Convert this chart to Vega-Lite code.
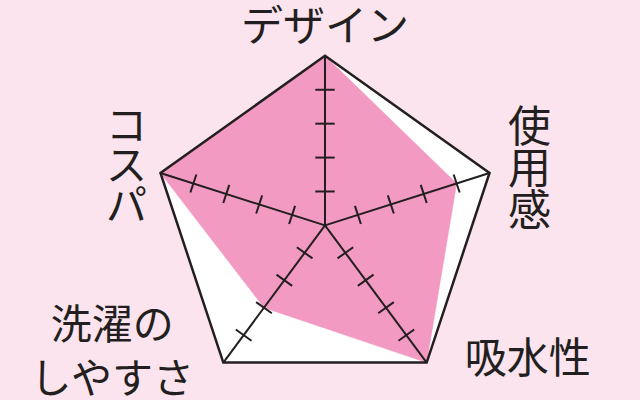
{
  "$schema": "https://vega.github.io/schema/vega-lite/v6.json",
  "width": 640,
  "height": 400,
  "autosize": {"type": "fit", "contains": "padding"},
  "padding": 0,
  "background": "#fce4ee",
  "data": {
    "values": [
      {"axis": "デザイン", "label": "デザイン", "idx": 0, "score": 5, "ticks": [1, 2, 3, 4]},
      {"axis": "使用感", "label": "使\n用\n感", "idx": 1, "score": 4, "ticks": [1, 2, 3, 4]},
      {"axis": "吸水性", "label": "吸水性", "idx": 2, "score": 5, "ticks": [1, 2, 3, 4]},
      {"axis": "洗濯のしやすさ", "label": "洗濯の\nしやすさ", "idx": 3, "score": 3, "ticks": [1, 2, 3, 4]},
      {"axis": "コスパ", "label": "コ\nス\nパ", "idx": 4, "score": 5, "ticks": [1, 2, 3, 4]}
    ]
  },
  "transform": [
    {"calculate": "PI / 2 - datum.idx * 2 * PI / 5", "as": "t"},
    {"calculate": "cos(datum.t)", "as": "c"},
    {"calculate": "sin(datum.t)", "as": "s"},
    {"calculate": "5 * datum.c", "as": "fx"},
    {"calculate": "5 * datum.s", "as": "fy"},
    {"calculate": "datum.score * datum.c", "as": "px"},
    {"calculate": "datum.score * datum.s", "as": "py"}
  ],
  "layer": [
    {
      "mark": {"type": "line", "interpolate": "linear-closed", "fill": "white", "strokeWidth": 0},
      "encoding": {
        "x": {"field": "fx", "type": "quantitative", "scale": {"domain": [-9.393, 9.104], "nice": false, "zero": false}},
        "y": {"field": "fy", "type": "quantitative", "scale": {"domain": [-4.913, 6.647], "nice": false, "zero": false}},
        "order": {"field": "idx", "type": "quantitative"}
      }
    },
    {
      "mark": {"type": "line", "interpolate": "linear-closed", "fill": "#f39ac2", "stroke": "#f39ac2", "strokeWidth": 0.5},
      "encoding": {
        "x": {"field": "px", "type": "quantitative", "scale": {"domain": [-9.393, 9.104], "nice": false, "zero": false}},
        "y": {"field": "py", "type": "quantitative", "scale": {"domain": [-4.913, 6.647], "nice": false, "zero": false}},
        "order": {"field": "idx", "type": "quantitative"}
      }
    },
    {
      "mark": {"type": "line", "interpolate": "linear-closed", "stroke": "#231f20", "strokeWidth": 2.5},
      "encoding": {
        "x": {"field": "fx", "type": "quantitative", "scale": {"domain": [-9.393, 9.104], "nice": false, "zero": false}},
        "y": {"field": "fy", "type": "quantitative", "scale": {"domain": [-4.913, 6.647], "nice": false, "zero": false}},
        "order": {"field": "idx", "type": "quantitative"}
      }
    },
    {
      "mark": {"type": "rule", "color": "#231f20", "strokeWidth": 2},
      "encoding": {
        "x": {"field": "fx", "type": "quantitative", "scale": {"domain": [-9.393, 9.104], "nice": false, "zero": false}},
        "y": {"field": "fy", "type": "quantitative", "scale": {"domain": [-4.913, 6.647], "nice": false, "zero": false}},
        "x2": {"datum": 0},
        "y2": {"datum": 0}
      }
    },
    {
      "transform": [
        {"flatten": ["ticks"], "as": ["lv"]},
        {"calculate": "datum.lv * datum.c + 0.28 * datum.s", "as": "tx1"},
        {"calculate": "datum.lv * datum.s - 0.28 * datum.c", "as": "ty1"},
        {"calculate": "datum.lv * datum.c - 0.28 * datum.s", "as": "tx2"},
        {"calculate": "datum.lv * datum.s + 0.28 * datum.c", "as": "ty2"}
      ],
      "mark": {"type": "rule", "color": "#231f20", "strokeWidth": 2},
      "encoding": {
        "x": {"field": "tx1", "type": "quantitative", "scale": {"domain": [-9.393, 9.104], "nice": false, "zero": false}},
        "y": {"field": "ty1", "type": "quantitative", "scale": {"domain": [-4.913, 6.647], "nice": false, "zero": false}},
        "x2": {"field": "tx2"},
        "y2": {"field": "ty2"}
      }
    },
    {
      "transform": [{"filter": "datum.idx == 0"}],
      "mark": {"type": "text", "font": "Noto Sans CJK JP", "fontSize": 42, "color": "#231f20", "align": "center", "baseline": "middle", "dy": -28},
      "encoding": {
        "x": {"field": "fx", "type": "quantitative", "scale": {"domain": [-9.393, 9.104], "nice": false, "zero": false}},
        "y": {"field": "fy", "type": "quantitative", "scale": {"domain": [-4.913, 6.647], "nice": false, "zero": false}},
        "text": {"field": "label"}
      }
    },
    {
      "transform": [{"filter": "datum.idx == 1"}],
      "mark": {"type": "text", "font": "Noto Sans CJK JP", "fontSize": 43, "lineHeight": 42, "lineBreak": "\n", "color": "#231f20", "align": "center", "baseline": "middle", "dx": 40, "dy": -44},
      "encoding": {
        "x": {"field": "fx", "type": "quantitative", "scale": {"domain": [-9.393, 9.104], "nice": false, "zero": false}},
        "y": {"field": "fy", "type": "quantitative", "scale": {"domain": [-4.913, 6.647], "nice": false, "zero": false}},
        "text": {"field": "label"}
      }
    },
    {
      "transform": [{"filter": "datum.idx == 2"}],
      "mark": {"type": "text", "font": "Noto Sans CJK JP", "fontSize": 42, "color": "#231f20", "align": "center", "baseline": "middle", "dx": 101, "dy": -3},
      "encoding": {
        "x": {"field": "fx", "type": "quantitative", "scale": {"domain": [-9.393, 9.104], "nice": false, "zero": false}},
        "y": {"field": "fy", "type": "quantitative", "scale": {"domain": [-4.913, 6.647], "nice": false, "zero": false}},
        "text": {"field": "label"}
      }
    },
    {
      "transform": [{"filter": "datum.idx == 3"}],
      "mark": {"type": "text", "font": "Noto Sans CJK JP", "fontSize": 41, "lineHeight": 54, "lineBreak": "\n", "color": "#231f20", "align": "center", "baseline": "middle", "dx": -111, "dy": -36},
      "encoding": {
        "x": {"field": "fx", "type": "quantitative", "scale": {"domain": [-9.393, 9.104], "nice": false, "zero": false}},
        "y": {"field": "fy", "type": "quantitative", "scale": {"domain": [-4.913, 6.647], "nice": false, "zero": false}},
        "text": {"field": "label"}
      }
    },
    {
      "transform": [{"filter": "datum.idx == 4"}],
      "mark": {"type": "text", "font": "Noto Sans CJK JP", "fontSize": 41, "lineHeight": 40, "lineBreak": "\n", "color": "#231f20", "align": "center", "baseline": "middle", "dx": -34, "dy": -45},
      "encoding": {
        "x": {"field": "fx", "type": "quantitative", "scale": {"domain": [-9.393, 9.104], "nice": false, "zero": false}},
        "y": {"field": "fy", "type": "quantitative", "scale": {"domain": [-4.913, 6.647], "nice": false, "zero": false}},
        "text": {"field": "label"}
      }
    }
  ],
  "config": {
    "view": {"stroke": null},
    "axis": {"disable": true}
  }
}
